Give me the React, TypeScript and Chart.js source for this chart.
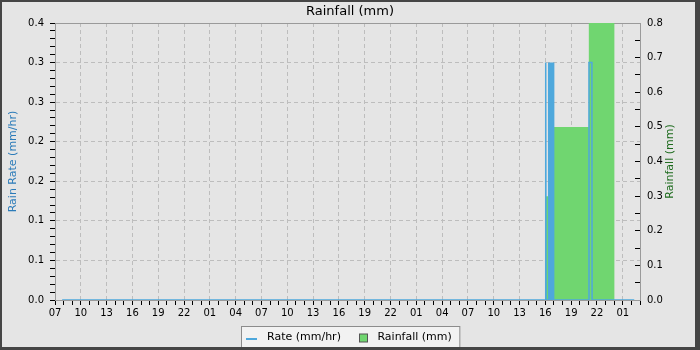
import React, { useEffect, useRef } from 'react';
import { Chart, registerables } from 'chart.js';

Chart.register(...registerables);

const FONT_FAMILY = '"DejaVu Sans", Verdana, sans-serif';

const chartTitle = 'Rainfall (mm)';
const rateLabel = 'Rate (mm/hr)';
const rainLabel = 'Rainfall (mm)';
const rateAxisTitle = 'Rain Rate (mm/hr)';
const rainAxisTitle = 'Rainfall (mm)';

// x values are hours after 07:00 of the first day shown
const xMinHours = 0;
const xMaxHours = 68;
const xMajorStep = 3;
const xMinorStep = 1;
const xTickLabels = ['07', '10', '13', '16', '19', '22', '01', '04', '07', '10', '13', '16', '19', '22', '01', '04', '07', '10', '13', '16', '19', '22', '01'];

const rateAxisMax = 0.35;
const rateMajorStep = 0.05;
const rateMinorStep = 0.01;
const rateTickLabels = ['0.0', '0.1', '0.1', '0.2', '0.2', '0.3', '0.3', '0.4'];

const rainAxisMax = 0.8;
const rainMajorStep = 0.1;
const rainMinorStep = 0.05;
const rainTickLabels = ['0.0', '0.1', '0.2', '0.3', '0.4', '0.5', '0.6', '0.7', '0.8'];

// Rain rate (mm/hr)
const rateHours = [0.83, 57.0, 57.02, 57.06, 57.08, 57.37, 57.39, 57.47, 57.55, 57.64, 57.72, 57.8, 57.89, 57.95, 57.97, 62.05, 62.07, 62.41, 62.43, 67.33];
const rateValues = [0, 0, 0.3, 0.3, 0, 0, 0.3, 0, 0.3, 0, 0.3, 0, 0.3, 0.3, 0, 0, 0.3, 0.3, 0, 0];

// Rainfall (mm), each value holds until the next time
const rainHours = [57.0, 57.5, 58.0, 62.05, 65.05];
const rainValues = [0.3, 0.34, 0.5, 0.8, 0];

const rateColor = '#4ea8dc';
const rainColor = '#70d670';
const bgColor = '#e5e5e5';
const frameColor = '#454545';
const gridColor = '#bdbdbd';
const axisColor = '#9a9a9a';
const rateTitleColor = '#2b7bb9';
const rainTitleColor = '#1e6b1e';

const isMajor = (v: number, step: number) => Math.abs(v / step - Math.round(v / step)) < 1e-6;
const transparent = 'rgba(0,0,0,0)';

const decorPlugin = {
  id: 'decor',
  beforeDraw(chart: any) {
    const ctx = chart.ctx;
    ctx.save();
    ctx.fillStyle = bgColor;
    ctx.fillRect(0, 0, chart.width, chart.height);
    ctx.restore();
  },
  afterDraw(chart: any) {
    const ctx = chart.ctx;
    const area = chart.chartArea;
    ctx.save();
    // right axis title, reading bottom to top
    const s = chart.scales.y1;
    ctx.translate(s.left + 30.5, (area.top + area.bottom) / 2);
    ctx.rotate(-Math.PI / 2);
    ctx.font = `11px ${FONT_FAMILY}`;
    ctx.fillStyle = rainTitleColor;
    ctx.textAlign = 'center';
    ctx.textBaseline = 'middle';
    ctx.fillText(rainAxisTitle, 0, 0);
    ctx.restore();

    // legend
    ctx.save();
    ctx.font = `11px ${FONT_FAMILY}`;
    const ds = chart.data.datasets;
    const w1 = ctx.measureText(ds[0].label).width;
    const w2 = ctx.measureText(ds[1].label).width;
    const padL = 4.5, mark = 11, gap = 10, between = 18, sq = 8, gap2 = 10.5, padR = 8;
    const total = padL + mark + gap + w1 + between + sq + gap2 + w2 + padR;
    const left = Math.round(chart.width / 2 - total / 2) + 0.5;
    const top = area.bottom + 26.5;
    ctx.fillStyle = '#f2f2f2';
    ctx.fillRect(left, top, total, 24);
    ctx.strokeStyle = '#8c8c8c';
    ctx.lineWidth = 1;
    ctx.strokeRect(left, top, total, 24);
    let x = left + padL;
    ctx.strokeStyle = ds[0].borderColor;
    ctx.lineWidth = 2;
    ctx.beginPath();
    ctx.moveTo(x, top + 12.5);
    ctx.lineTo(x + mark, top + 12.5);
    ctx.stroke();
    x += mark + gap;
    ctx.fillStyle = '#000';
    ctx.textAlign = 'left';
    ctx.textBaseline = 'alphabetic';
    ctx.fillText(ds[0].label, x, top + 13.5);
    x += w1 + between;
    ctx.fillStyle = ds[1].backgroundColor;
    ctx.fillRect(Math.round(x) + 0.5, top + 7.5, sq, sq);
    ctx.strokeStyle = '#555';
    ctx.lineWidth = 1;
    ctx.strokeRect(Math.round(x) + 0.5, top + 7.5, sq, sq);
    x += sq + gap2;
    ctx.fillStyle = '#000';
    ctx.fillText(ds[1].label, x, top + 13.5);
    ctx.restore();

    // outer frame
    ctx.save();
    ctx.fillStyle = frameColor;
    ctx.fillRect(0, 0, chart.width, 2);
    ctx.fillRect(0, 0, 2, chart.height);
    ctx.fillRect(chart.width - 5, 0, 5, chart.height);
    ctx.fillRect(0, chart.height - 3, chart.width, 3);
    ctx.restore();
  },
};

export default function App() {
  const canvasRef = useRef<HTMLCanvasElement | null>(null);

  useEffect(() => {
    document.body.style.margin = '0';
    const canvas = canvasRef.current;
    if (!canvas) return;
    const tickFont = { family: FONT_FAMILY, size: 10 };

    const chart = new Chart(canvas, {
      type: 'line',
      data: {
        datasets: [
          {
            label: rateLabel,
            data: rateHours.map((h, i) => ({ x: h, y: rateValues[i] })),
            xAxisID: 'x',
            yAxisID: 'y',
            borderColor: rateColor,
            backgroundColor: rateColor,
            borderWidth: 1.5,
            pointRadius: 0,
            tension: 0,
            fill: false,
            order: 1,
          },
          {
            label: rainLabel,
            data: rainHours.map((h, i) => ({ x: h, y: rainValues[i] })),
            xAxisID: 'x',
            yAxisID: 'y1',
            borderColor: transparent,
            backgroundColor: rainColor,
            borderWidth: 0,
            pointRadius: 0,
            stepped: 'before',
            fill: 'origin',
            order: 2,
          },
        ],
      } as any,
      options: {
        animation: false,
        responsive: false,
        maintainAspectRatio: false,
        events: [],
        layout: { padding: { left: 0, right: 0, top: 0, bottom: 25 } },
        plugins: {
          legend: { display: false },
          tooltip: { enabled: false },
          title: {
            display: true,
            text: chartTitle,
            color: '#000',
            font: { family: FONT_FAMILY, size: 13, weight: 'normal' },
            padding: { top: 4, bottom: 3.4 },
          },
        },
        scales: {
          x: {
            type: 'linear',
            position: 'bottom',
            min: xMinHours,
            max: xMaxHours,
            afterFit: (s: any) => { s.height = 25; },
            ticks: {
              stepSize: xMinorStep,
              maxTicksLimit: 1000,
              autoSkip: false,
              maxRotation: 0,
              minRotation: 0,
              padding: 2,
              color: '#000',
              font: tickFont,
              callback: (v: any) => (isMajor(Number(v), xMajorStep) ? xTickLabels[Math.round(Number(v) / xMajorStep)] ?? '' : ''),
            },
            grid: {
              color: (c: any) => (c.tick && isMajor(c.tick.value, xMajorStep) ? gridColor : transparent),
              tickColor: '#000',
              tickLength: 5,
              lineWidth: 1,
            },
            border: { display: true, color: axisColor, width: 1, dash: [4, 3] },
          },
          xTop: {
            type: 'linear',
            position: 'top',
            min: xMinHours,
            max: xMaxHours,
            afterFit: (s: any) => { s.height = 0; },
            ticks: { display: false },
            grid: { display: false, drawTicks: false },
            border: { display: true, color: axisColor, width: 1 },
          },
          y: {
            type: 'linear',
            position: 'left',
            min: 0,
            max: rateAxisMax,
            afterFit: (s: any) => { s.width = 55; },
            ticks: {
              stepSize: rateMinorStep,
              maxTicksLimit: 1000,
              autoSkip: false,
              padding: 6,
              color: '#000',
              font: tickFont,
              callback: (v: any) => (isMajor(Number(v), rateMajorStep) ? rateTickLabels[Math.round(Number(v) / rateMajorStep)] ?? '' : ''),
            },
            grid: {
              color: (c: any) => (c.tick && isMajor(c.tick.value, rateMajorStep) ? gridColor : transparent),
              tickColor: '#000',
              tickLength: 5,
              lineWidth: 1,
            },
            border: { display: true, color: axisColor, width: 1, dash: [4, 3] },
            title: {
              display: true,
              text: rateAxisTitle,
              color: rateTitleColor,
              font: { family: FONT_FAMILY, size: 11 },
              padding: { top: 7, bottom: 0 },
            },
          },
          y1: {
            type: 'linear',
            position: 'right',
            min: 0,
            max: rainAxisMax,
            afterFit: (s: any) => { s.width = 60; },
            ticks: {
              stepSize: rainMinorStep,
              maxTicksLimit: 1000,
              autoSkip: false,
              padding: 12,
              color: '#000',
              font: tickFont,
              callback: (v: any) => (isMajor(Number(v), rainMajorStep) ? rainTickLabels[Math.round(Number(v) / rainMajorStep)] ?? '' : ''),
            },
            grid: {
              drawOnChartArea: false,
              color: transparent,
              tickColor: '#000',
              tickLength: -5,
            },
            border: { display: true, color: axisColor, width: 1 },
          },
        },
      } as any,
      plugins: [decorPlugin],
    });
    return () => chart.destroy();
  }, []);

  return (
    <div style={{ width: 700, height: 350 }}>
      <canvas ref={canvasRef} width={700} height={350} style={{ display: 'block' }} />
    </div>
  );
}
